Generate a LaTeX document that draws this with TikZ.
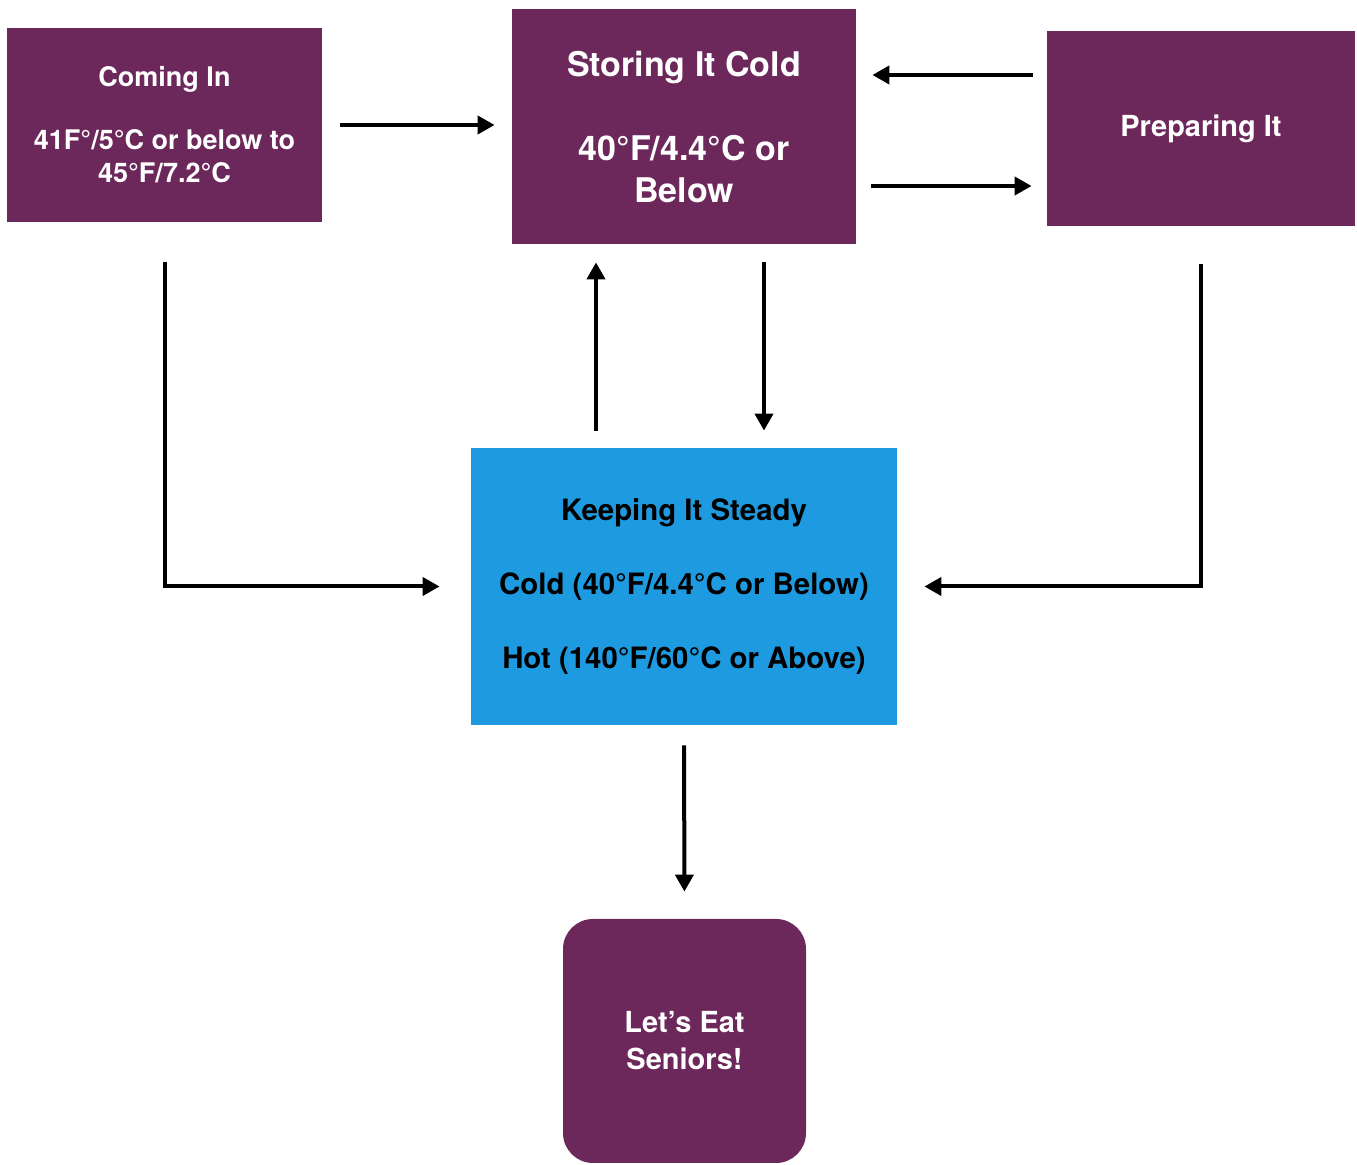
\documentclass[tikz,border=0pt]{standalone}
\usepackage{fontspec}
\setmainfont{TeX Gyre Heros}
\usepackage{xcolor}
\usetikzlibrary{arrows.meta}
\definecolor{Stage Plum}{HTML}{6C285A}
\definecolor{Steady Blue}{HTML}{1E9BE0}

\begin{document}
\begin{tikzpicture}[x=0.5pt, y=-0.5pt]
  \useasboundingbox (0,0) rectangle (1357,1165);

  \tikzstyle{stage}=[rectangle, fill=Stage Plum, text=white, font=\bfseries, align=center, inner sep=0pt]
  \tikzstyle{steady}=[stage, fill=Steady Blue, text=black]
  \tikzstyle{flow}=[line width=2pt, -{Triangle[length=8.5pt,width=9pt]}]

  % Draw the top row of stages
  \node[stage, minimum width=157.5pt, minimum height=97pt, font=\bfseries\fontsize{13.5}{16.5}\selectfont] (Coming) at (164.5,125)
      {Coming In\\[15pt]41F°/5°C or below to\\45°F/7.2°C};
  \node[stage, minimum width=172pt, minimum height=117.5pt, font=\bfseries\fontsize{17}{21}\selectfont] (Store) at (684,126.5)
      {Storing It Cold\\[21pt]40°F/4.4°C or\\Below};
  \node[stage, minimum width=154pt, minimum height=97.5pt, font=\bfseries\fontsize{14.5}{17}\selectfont] (Prep) at (1201,128.5)
      {Preparing It};

  % Draw the holding stage
  \node[steady, minimum width=213pt, minimum height=138.5pt, font=\bfseries\fontsize{14.7}{37}\selectfont] (Keep) at (684,586.5)
      {Keeping It Steady\\Cold (40°F/4.4°C or Below)\\Hot (140°F/60°C or Above)};

  % Draw the final stage
  \node[stage, rounded corners=15pt, minimum width=121.5pt, minimum height=122pt, font=\bfseries\fontsize{14.5}{18.5}\selectfont] (Eat) at (684.5,1041)
      {Let’s Eat\\Seniors!};

  % Connect the top row
  \draw[flow, shorten <=9pt, shorten >=8.5pt] (Coming.east) -- (Coming.east -| Store.west);
  \draw[flow, shorten <=7pt, shorten >=8pt] ([yshift=26.75pt]Prep.west) -- ([yshift=26.75pt]Prep.west -| Store.east);
  \draw[flow, shorten <=7.5pt, shorten >=7.5pt] ([yshift=-29.75pt]Store.east) -- ([yshift=-29.75pt]Store.east -| Prep.west);

  % Connect storing and holding both ways
  \draw[flow, shorten <=8.5pt, shorten >=9pt] ([xshift=-44pt]Store.south |- Keep.north) -- ([xshift=-44pt]Store.south);
  \draw[flow, shorten <=9pt, shorten >=8.5pt] ([xshift=40pt]Store.south) -- ([xshift=40pt]Store.south |- Keep.north);

  % Side routes into the holding stage
  \draw[flow, shorten <=20pt, shorten >=15.5pt] (Coming.south) |- (Keep.west);
  \draw[flow, shorten <=19pt, shorten >=13.5pt] (Prep.south) |- (Keep.east);

  % Holding to serving
  \draw[flow, shorten <=10pt, shorten >=13.5pt] (Keep.south) -- (Eat.north);

\end{tikzpicture}
\end{document}
